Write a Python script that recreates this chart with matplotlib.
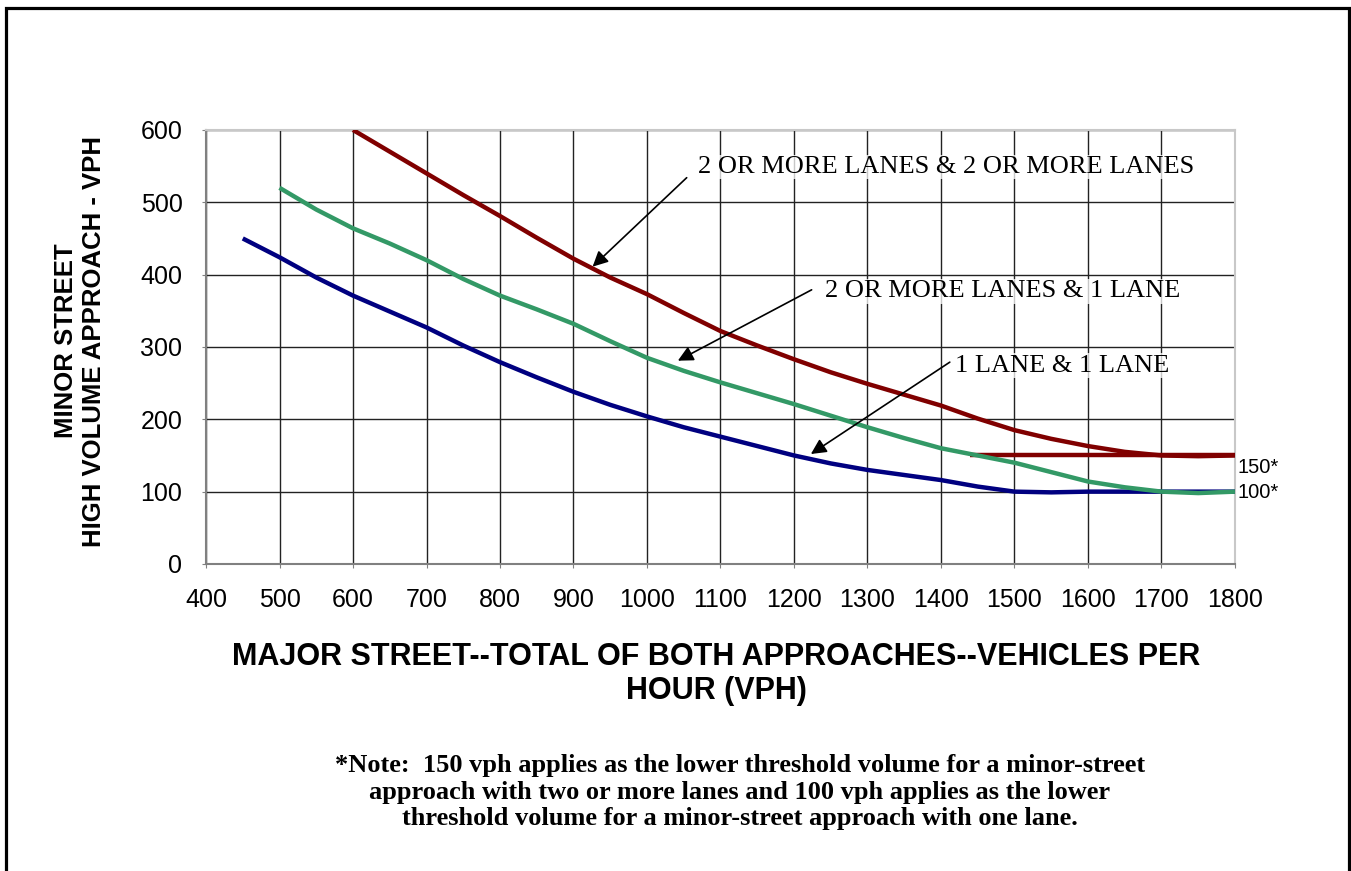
"""Warrant curves: minor street high volume approach vs. major street total volume."""
import matplotlib.pyplot as plt
from matplotlib.patches import Rectangle

# Major street total volume (vph) and minor street threshold (vph) for each lane case
x_two_two = [600, 650, 700, 750, 800, 850, 900, 950, 1000, 1050, 1100, 1150, 1200,
             1250, 1300, 1350, 1400, 1450, 1500, 1550, 1600, 1650, 1700, 1750, 1800]
y_two_two = [600, 570, 540, 510, 481, 451, 422, 396, 373, 347, 322, 302, 283,
             265, 249, 234, 219, 201, 185, 173, 163, 155, 150, 149, 150]

x_two_one = [500, 550, 600, 650, 700, 750, 800, 850, 900, 950, 1000, 1050, 1100, 1150,
             1200, 1250, 1300, 1350, 1400, 1450, 1500, 1550, 1600, 1650, 1700, 1750, 1800]
y_two_one = [520, 490, 464, 443, 420, 394, 371, 352, 332, 308, 285, 267, 251, 236,
             221, 205, 189, 174, 160, 150, 140, 127, 114, 106, 100, 98, 100]

x_one_one = [450, 500, 550, 600, 650, 700, 750, 800, 850, 900, 950, 1000, 1050, 1100,
             1150, 1200, 1250, 1300, 1350, 1400, 1450, 1500, 1550, 1600, 1700, 1800]
y_one_one = [450, 424, 396, 371, 349, 327, 302, 279, 258, 238, 220, 204, 189, 176,
             163, 150, 139, 130, 123, 116, 107, 100, 99, 100, 100, 100]

# lower threshold for two-lane minor approach
x_floor_150 = [1440, 1800]
y_floor_150 = [150, 150]

x_ticks = list(range(400, 1801, 100))
y_ticks = list(range(0, 601, 100))

RED = "#800000"
GREEN = "#339966"
BLUE = "#000080"

fig = plt.figure(figsize=(13.51, 8.71), dpi=100)
ax = fig.add_axes([0.1525, 0.3525, 0.7616, 0.4983])

ax.set_xlim(400, 1800)
ax.set_ylim(0, 600)
ax.set_xticks(x_ticks)
ax.set_yticks(y_ticks)
ax.grid(True, color="#222222", linewidth=1.0)
ax.set_axisbelow(True)

for side in ["left", "bottom"]:
    ax.spines[side].set_color("#808080")
    ax.spines[side].set_linewidth(1.5)
for side in ["top", "right"]:
    ax.spines[side].set_color("#c8c8c8")
    ax.spines[side].set_linewidth(1.5)

ax.tick_params(axis="both", length=3, color="#808080", labelsize=18,
               pad=14)
for lab in ax.get_xticklabels() + ax.get_yticklabels():
    lab.set_fontfamily("Liberation Sans")

line_kw = dict(lw=3.2, solid_capstyle="butt", solid_joinstyle="round")
ax.plot(x_two_two, y_two_two, color=RED, zorder=3, **line_kw)
ax.plot(x_floor_150, y_floor_150, color=RED, zorder=3, **line_kw)
ax.plot(x_one_one, y_one_one, color=BLUE, zorder=3, **line_kw)
ax.plot(x_two_one, y_two_one, color=GREEN, zorder=4, **line_kw)

# curve labels with leader arrows
box = dict(facecolor="white", edgecolor="none", pad=1, alpha=0.75)
serif = "Liberation Serif"
ax.text(1069, 549, "2 OR MORE LANES & 2 OR MORE LANES", fontsize=19,
        family=serif, va="center", ha="left", bbox=box, zorder=5)
ax.text(1242, 377, "2 OR MORE LANES & 1 LANE", fontsize=19,
        family=serif, va="center", ha="left", bbox=box, zorder=5)
ax.text(1419, 274, "1 LANE & 1 LANE", fontsize=19,
        family=serif, va="center", ha="left", bbox=box, zorder=5)

arrow = dict(arrowstyle="-|>", color="black", lw=1.2, mutation_scale=23,
             shrinkA=0, shrinkB=0)
ax.annotate("", xy=(926, 411), xytext=(1054, 534), arrowprops=arrow, zorder=6)
ax.annotate("", xy=(1042, 281), xytext=(1224, 379), arrowprops=arrow, zorder=6)
ax.annotate("", xy=(1223, 152), xytext=(1412, 279), arrowprops=arrow, zorder=6)

# threshold markers at the right edge
ax.text(1803, 133, "150*", fontsize=14.5, family="Liberation Sans",
        ha="left", va="center", clip_on=False)
ax.text(1803, 99, "100*", fontsize=14.5, family="Liberation Sans",
        ha="left", va="center", clip_on=False)

fig.text(716 / 1351, 1 - 674 / 871,
         "MAJOR STREET--TOTAL OF BOTH APPROACHES--VEHICLES PER\nHOUR (VPH)",
         fontsize=22, fontweight="bold", family="Liberation Sans",
         ha="center", va="center", multialignment="center", linespacing=1.15)

fig.text(80 / 1351, 1 - 341 / 871,
         "MINOR STREET\nHIGH VOLUME APPROACH - VPH",
         fontsize=18.5, fontweight="bold", family="Liberation Sans",
         rotation=90, ha="center", va="center", multialignment="center",
         linespacing=1.2)

fig.text(740 / 1351, 1 - 792 / 871,
         "*Note:  150 vph applies as the lower threshold volume for a minor-street\n"
         "approach with two or more lanes and 100 vph applies as the lower\n"
         "threshold volume for a minor-street approach with one lane.",
         fontsize=19, fontweight="bold", family=serif,
         ha="center", va="center", multialignment="center", linespacing=1.2)

# outer frame (open at the bottom edge)
fig.patches.append(Rectangle((6 / 1351, -0.05), (1349 - 6) / 1351, 1.05 - 8.5 / 871,
                             transform=fig.transFigure, fill=False,
                             edgecolor="black", linewidth=2.3))

fig.savefig("out.png", dpi=100)
plt.close(fig)
